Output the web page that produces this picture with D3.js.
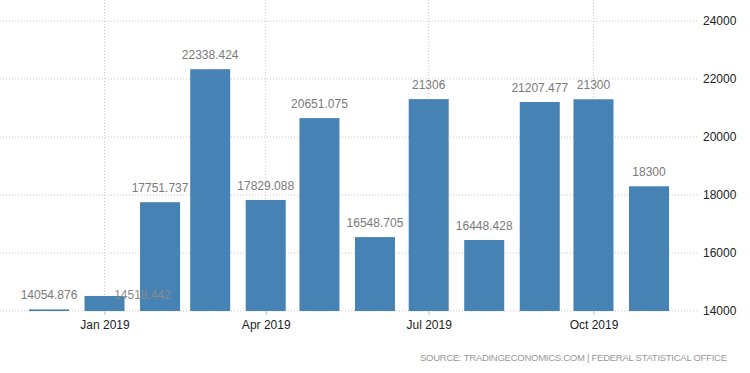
<!DOCTYPE html>
<html>
<head>
<meta charset="utf-8">
<script src="https://cdn.jsdelivr.net/npm/d3@7"></script>
<style>
  body { margin: 0; background: #fff; }
  svg { display: block; font-family: "Liberation Sans", Arial, sans-serif; }
</style>
</head>
<body>
<svg id="chart"></svg>
<script>
// monthly values, Dec 2018 .. Nov 2019
const months = ['2018-12', '2019-01', '2019-02', '2019-03', '2019-04', '2019-05',
  '2019-06', '2019-07', '2019-08', '2019-09', '2019-10', '2019-11'];
const values = [14054.876, 14518.442, 17751.737, 22338.424, 17829.088, 20651.075,
  16548.705, 21306, 16448.428, 21207.477, 21300, 18300];
const labels = ['14054.876', '14518.442', '17751.737', '22338.424', '17829.088', '20651.075',
  '16548.705', '21306', '16448.428', '21207.477', '21300', '18300'];
const yTicks = [14000, 16000, 18000, 20000, 22000, 24000];
const xTicks = ['2019-01', '2019-04', '2019-07', '2019-10'];

const width = 750, height = 373;
const parse = d3.timeParse('%Y-%m');
const data = months.map((m, i) => ({ date: parse(m), value: values[i], label: labels[i] }));

const svg = d3.select('#chart')
  .attr('width', width)
  .attr('height', height);

const x = d3.scaleTime()
  .domain([parse('2018-12'), parse('2019-11')])
  .range([49, 649]);

const y = d3.scaleLinear()
  .domain([14000, 24000])
  .range([311, 21]);

const plotLeft = 0, plotRight = 698, plotTop = 0;
const barW = 40;

// horizontal grid
svg.append('g')
  .selectAll('line')
  .data(yTicks)
  .enter().append('line')
  .attr('x1', plotLeft)
  .attr('x2', plotRight)
  .attr('y1', d => y(d))
  .attr('y2', d => y(d))
  .attr('stroke', '#c8c8c8')
  .attr('stroke-dasharray', '1,2');

// vertical grid
svg.append('g')
  .selectAll('line')
  .data(xTicks.map(parse))
  .enter().append('line')
  .attr('x1', d => x(d))
  .attr('x2', d => x(d))
  .attr('y1', plotTop)
  .attr('y2', y(14000))
  .attr('stroke', '#c8c8c8')
  .attr('stroke-dasharray', '1,2');

svg.append('g')
  .selectAll('rect')
  .data(data)
  .enter().append('rect')
  .attr('x', d => x(d.date) - barW / 2)
  .attr('width', barW)
  .attr('y', d => y(d.value))
  .attr('height', d => y(14000) - y(d.value))
  .attr('fill', '#4682b4');

// value labels; Jan label is pushed right/down to dodge the Dec one
svg.append('g')
  .attr('font-size', '12px')
  .attr('fill', '#7a7a7a')
  .attr('text-anchor', 'middle')
  .selectAll('text')
  .data(data)
  .enter().append('text')
  .attr('x', (d, i) => x(d.date) + (i === 1 ? 38 : 0))
  .attr('y', (d, i) => i === 1 ? y(data[0].value) - 10 : y(d.value) - 10)
  .attr('fill', (d, i) => i === 1 ? '#8a8a8a' : '#7a7a7a')
  .text(d => d.label);

// x axis
const xAxis = svg.append('g')
  .attr('transform', `translate(0,${y(14000)})`)
  .call(d3.axisBottom(x)
    .tickValues(xTicks.map(parse))
    .tickSize(4)
    .tickFormat(d3.timeFormat('%b %Y')));
xAxis.select('.domain').remove();
xAxis.selectAll('line').attr('stroke', '#bbb');
xAxis.selectAll('text')
  .attr('font-family', '"Liberation Sans", Arial, sans-serif')
  .attr('font-size', '12px')
  .attr('fill', '#222')
  .attr('dy', '0.95em');

// y axis on right
const yAxis = svg.append('g')
  .attr('transform', `translate(${plotRight + 4},0)`)
  .call(d3.axisRight(y).tickValues(yTicks).tickSize(0).tickFormat(d3.format('d')));
yAxis.select('.domain').remove();
yAxis.selectAll('text')
  .attr('font-family', '"Liberation Sans", Arial, sans-serif')
  .attr('font-size', '12px')
  .attr('fill', '#222')
  .attr('x', 1);

// source
svg.append('text')
  .attr('x', 727)
  .attr('y', 361)
  .attr('text-anchor', 'end')
  .attr('font-size', '9.5px')
  .attr('fill', '#999')
  .attr('textLength', 307)
  .attr('lengthAdjust', 'spacing')
  .text('SOURCE: TRADINGECONOMICS.COM  |  FEDERAL STATISTICAL OFFICE');
</script>
</body>
</html>
